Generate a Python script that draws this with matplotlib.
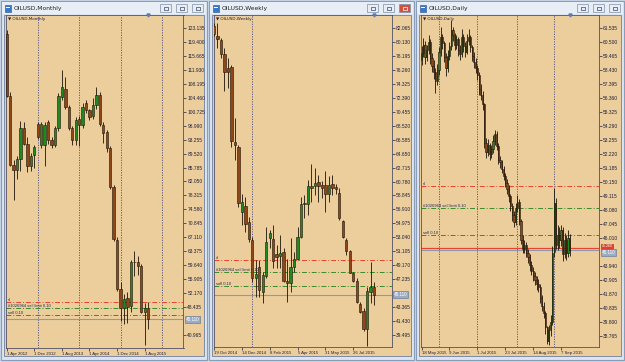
import matplotlib
matplotlib.use("Agg")
import matplotlib.pyplot as plt
from matplotlib.patches import Rectangle
from matplotlib.transforms import blended_transform_factory

W, H = 625, 362
TAN = "#ecce9c"
FRAME = "#50506a"
TXT = "#1e1e3c"
BULL = "#1f8a22"
BEAR = "#8e4718"
EDGE = "#1c1208"
SMALL = "Liberation Sans"

# order lines (same orders show on all three charts)
sl_level = 49.85
limit_level = 48.25
sell_level = 46.25
bid_level = 45.11
ask_level = 45.26
bid_text = "45.110"
ask_text = "45.260"
level_names = ["sl", "#1026964 sell limit 0.10", "sell 0.10"]

# monthly, Apr 2012 .. Sep 2015
mo_open = [121.5, 105.0, 86.6, 85.0, 88.2, 96.4, 92.1, 86.1, 89.2, 97.5,
           91.8, 91.9, 97.9, 93.2, 91.9, 96.4, 104.6, 106.8, 102.0, 96.4,
           93.2, 98.8, 97.2, 103.0, 101.1, 99.5, 102.6, 105.2, 97.2, 95.3,
           91.0, 80.5, 66.3, 53.2, 48.1, 50.7, 48.6, 60.5, 60.5, 59.3,
           47.0, 48.1]
mo_high = [122.6, 106.1, 87.9, 88.8, 98.3, 98.1, 94.1, 89.7, 91.9, 98.1,
           98.1, 97.9, 98.6, 94.0, 97.0, 105.8, 111.9, 110.1, 102.5, 97.0,
           99.3, 99.5, 103.0, 103.8, 101.6, 104.4, 107.3, 106.0, 98.0, 95.8,
           91.5, 81.0, 67.1, 55.0, 52.0, 52.5, 60.9, 63.5, 62.0, 60.0,
           49.5, 49.7]
mo_low = [104.6, 86.1, 77.2, 82.6, 84.8, 91.9, 84.6, 84.8, 85.7, 93.5,
          91.0, 86.1, 92.0, 91.0, 91.2, 95.5, 104.0, 101.6, 95.8, 91.9,
          91.9, 91.5, 96.4, 100.5, 98.6, 98.8, 101.6, 97.0, 92.4, 90.0,
          80.0, 66.0, 52.6, 44.5, 43.9, 44.0, 47.0, 56.8, 57.0, 46.8,
          38.3, 42.5]
mo_close = [105.0, 86.6, 85.0, 88.2, 96.4, 92.1, 86.1, 89.0, 91.3, 94.0,
            97.5, 97.2, 93.2, 91.9, 96.4, 105.0, 107.3, 102.1, 96.4, 93.2,
            98.6, 97.1, 102.1, 101.2, 99.3, 102.6, 105.2, 97.4, 95.0, 91.0,
            80.5, 66.6, 53.2, 48.1, 50.6, 48.5, 60.5, 60.4, 59.3, 47.0,
            48.1, 45.11]
mo_dates = ["1 Apr 2012", "1 Dec 2012", "1 Aug 2013", "1 Apr 2014", "1 Dec 2014", "1 Aug 2015"]
mo_date_idx = [0, 8, 16, 24, 32, 40]
mo_seps = [9, 21, 33, 45]
mo_ticks = [40.965, 48.435, 52.170, 55.905, 59.640, 63.375, 67.110, 70.845,
            74.580, 78.315, 82.050, 85.785, 89.520, 93.255, 96.990, 100.725,
            104.460, 108.195, 111.930, 115.665, 119.400, 123.135]

# weekly, 19 Oct 2014 .. Sep 2015
wk_open = [82.4, 81.0, 80.4, 78.4, 76.5, 76.7, 66.2, 65.5, 56.6, 57.4,
           55.1, 52.7, 47.4, 48.9, 45.5, 47.7, 53.0, 52.8, 50.7, 50.5,
           51.0, 47.0, 46.7, 48.9, 50.1, 53.15, 57.7, 57.6, 59.9, 60.1,
           60.7, 60.3, 60.3, 59.1, 60.4, 60.0, 59.25, 55.3, 52.6, 51.1,
           48.15, 47.0, 43.85, 42.8, 40.3, 45.4, 46.1]
wk_high = [82.7, 82.7, 80.7, 79.3, 77.9, 77.0, 69.6, 65.8, 59.1, 58.7,
           55.9, 53.1, 49.9, 49.9, 48.3, 54.5, 54.1, 54.7, 52.0, 53.4,
           51.5, 50.1, 52.9, 51.0, 54.5, 58.7, 58.9, 61.0, 63.2, 62.6,
           61.7, 60.8, 62.2, 61.5, 61.7, 60.5, 59.85, 55.5, 52.9, 51.3,
           48.3, 47.4, 44.1, 43.2, 46.2, 49.6, 46.9]
wk_low = [80.9, 79.3, 77.9, 73.3, 73.7, 65.5, 63.8, 57.2, 54.8, 53.8,
          52.4, 46.9, 44.8, 44.8, 43.9, 47.4, 51.5, 48.75, 48.75, 48.75,
          46.9, 44.1, 45.5, 48.3, 49.9, 52.9, 55.7, 56.2, 58.0, 58.9,
          58.0, 58.5, 56.6, 58.0, 58.9, 59.0, 55.5, 52.9, 50.6, 48.1,
          46.9, 43.9, 42.5, 40.0, 38.0, 43.9, 43.7]
wk_close = [81.2, 80.6, 78.4, 75.9, 76.0, 66.4, 65.8, 57.8, 57.9, 54.9,
            52.8, 47.4, 48.0, 45.75, 47.8, 52.45, 53.6, 49.8, 50.3, 50.9,
            47.0, 46.7, 48.9, 50.1, 53.15, 57.6, 57.8, 60.1, 60.2, 60.6,
            60.1, 59.85, 59.1, 60.3, 59.85, 59.8, 55.7, 53.15, 51.1, 48.15,
            47.0, 44.1, 42.65, 40.3, 45.6, 46.2, 45.11]
wk_dates = ["19 Oct 2014", "14 Dec 2014", "8 Feb 2015", "5 Apr 2015", "31 May 2015", "26 Jul 2015"]
wk_date_idx = [0, 8, 16, 24, 32, 40]
wk_seps = [11]
wk_ticks = [39.495, 41.430, 43.365, 47.235, 49.170, 51.105, 53.040, 54.975,
            56.910, 58.845, 60.780, 62.715, 64.650, 66.585, 68.520, 70.455,
            72.390, 74.325, 76.260, 78.195, 80.130, 82.065]

# daily, 18 May 2015 .. 14 Sep 2015
dy_open = [59.2, 59.7, 60.3, 59.4, 59.9, 60.5, 59.3, 58.7, 58.3, 57.6,
           58.4, 59.8, 60.9, 60.4, 59.4, 58.6, 59.5, 60.2, 61.4, 61.0,
           60.3, 60.7, 59.9, 59.6, 60.9, 60.2, 59.8, 60.6, 60.9, 60.1,
           59.5, 59.0, 58.6, 58.1, 57.0, 56.6, 55.9, 53.0, 52.4, 52.9,
           52.2, 52.6, 53.2, 53.7, 52.8, 51.8, 51.6, 51.1, 50.6, 50.1,
           49.6, 49.1, 48.4, 47.7, 47.2, 48.2, 48.7, 47.3, 45.9, 45.2,
           45.5, 44.9, 44.6, 44.0, 43.6, 43.2, 42.9, 42.6, 42.4, 41.6,
           41.0, 40.5, 39.4, 38.4, 39.2, 39.8, 45.0, 48.6, 45.5, 46.2,
           45.9, 46.6, 44.8, 45.9, 44.9, 46.0]
dy_high = [60.2, 60.8, 60.6, 60.3, 61.0, 60.7, 59.7, 59.2, 58.6, 58.9,
           60.1, 61.6, 61.1, 60.6, 59.7, 59.9, 60.5, 62.1, 61.6, 61.2,
           61.0, 60.9, 60.3, 61.5, 61.1, 60.5, 61.1, 61.5, 61.0, 60.3,
           59.8, 59.3, 58.8, 58.3, 57.4, 56.9, 56.0, 53.4, 53.3, 53.0,
           52.9, 53.6, 54.0, 53.9, 53.0, 52.1, 51.8, 51.3, 50.8, 50.4,
           49.9, 49.3, 48.6, 48.0, 48.6, 49.2, 48.9, 47.4, 46.2, 45.9,
           45.7, 45.2, 44.8, 44.3, 43.9, 43.5, 43.2, 43.0, 42.6, 41.8,
           41.3, 40.6, 39.5, 39.6, 40.3, 45.4, 49.7, 49.0, 47.0, 46.8,
           47.0, 46.8, 46.4, 46.2, 46.6, 46.3]
dy_low = [58.8, 59.4, 58.9, 59.1, 59.6, 58.9, 58.3, 57.8, 56.7, 57.3,
          58.1, 59.5, 60.0, 59.0, 58.0, 58.3, 59.2, 59.9, 60.6, 59.9,
          60.0, 59.5, 59.2, 59.4, 59.8, 59.4, 59.6, 60.3, 59.8, 59.1,
          58.6, 58.2, 57.7, 56.6, 56.2, 55.5, 52.7, 51.9, 52.1, 51.8,
          51.9, 52.3, 52.9, 52.5, 51.5, 51.2, 50.8, 50.3, 49.8, 49.3,
          48.7, 48.0, 47.3, 46.8, 47.0, 47.9, 47.0, 45.6, 44.9, 44.9,
          44.6, 44.2, 43.6, 43.3, 42.8, 42.5, 42.2, 42.0, 41.2, 40.6,
          40.1, 38.9, 38.2, 38.1, 38.8, 39.6, 44.6, 45.2, 45.1, 45.3,
          45.4, 44.3, 44.5, 44.4, 44.6, 44.7]
dy_close = [59.7, 60.3, 59.4, 59.9, 60.5, 59.3, 58.7, 58.3, 57.6, 58.4,
            59.8, 60.9, 60.4, 59.4, 58.6, 59.5, 60.2, 61.4, 61.0, 60.3,
            60.7, 59.9, 59.6, 60.9, 60.2, 59.8, 60.6, 60.9, 60.1, 59.5,
            59.0, 58.6, 58.1, 57.0, 56.6, 55.9, 53.0, 52.4, 52.9, 52.2,
            52.6, 53.2, 53.7, 52.8, 51.8, 51.6, 51.1, 50.6, 50.1, 49.6,
            49.1, 48.4, 47.7, 47.2, 48.2, 48.7, 47.3, 45.9, 45.2, 45.5,
            44.9, 44.6, 44.0, 43.6, 43.2, 42.9, 42.6, 42.4, 41.6, 41.0,
            40.5, 39.4, 38.4, 39.2, 39.8, 44.9, 48.6, 45.5, 46.2, 45.9,
            46.6, 44.8, 45.9, 44.9, 46.0, 45.11]
dy_dates = ["18 May 2015", "9 Jun 2015", "1 Jul 2015", "23 Jul 2015", "14 Aug 2015", "7 Sep 2015"]
dy_date_idx = [0, 16, 32, 48, 64, 80]
dy_seps = [10, 32, 55, 76]
dy_ticks = [38.765, 39.800, 40.835, 41.870, 42.905, 43.940, 46.010, 47.045,
            48.080, 49.115, 50.150, 51.185, 52.220, 53.255, 54.290, 55.325,
            56.360, 57.395, 58.430, 59.465, 60.500, 61.535]


def px_rect(x0, y0, x1, y1):
    return [x0 / W, 1 - y1 / H, (x1 - x0) / W, (y1 - y0) / H]


def draw_window(bg, x0, x1, title, active=False):
    bg.add_patch(Rectangle((x0, 1), x1 - x0, 359, fc="#dbe4ef", ec="#8a9db8", lw=0.8))
    bg.add_patch(Rectangle((x0 + 1, 2), x1 - x0 - 2, 12, fc="#e8eef6", ec="none"))
    bg.add_patch(Rectangle((x0 + 3, 15), x1 - x0 - 6, 341, fc=TAN, ec="#6f7fa0", lw=0.6))
    # little window icon
    bg.add_patch(Rectangle((x0 + 4, 4.5), 6, 7, fc="#3d78c4", ec="#2a4f8a", lw=0.4))
    bg.add_patch(Rectangle((x0 + 5.3, 6.5), 3.4, 1.2, fc="white", ec="none"))
    bg.text(x0 + 13, 8.8, title, fontsize=4.3, color="#202020", va="center", ha="left")
    for k, off in enumerate([47, 31, 15]):
        red = active and k == 2
        bg.add_patch(Rectangle((x1 - off, 4), 11, 8, fc="#d4503c" if red else "#e9eef5",
                               ec="#7d8fab", lw=0.5))
        bg.add_patch(Rectangle((x1 - off + 3.5, 6.5), 4, 3, fc="none",
                               ec="white" if red else "#3c4660", lw=0.5))


def draw_chart(fig, rect, o, h, l, c, width, xlim, ylim, ticks, dates, date_idx,
               seps, name, show_ask=False):
    ax = fig.add_axes(px_rect(*rect))
    ax.set_facecolor(TAN)
    x = list(range(len(o)))
    ax.vlines(x, l, h, color=EDGE, lw=0.6, zorder=3)
    bottoms = [min(a, b) for a, b in zip(o, c)]
    heights = [max(abs(b - a), 0.03) for a, b in zip(o, c)]
    colors = [BULL if b >= a else BEAR for a, b in zip(o, c)]
    ax.bar(x, heights, width, bottom=bottoms, color=colors, edgecolor=EDGE, lw=0.4, zorder=4)

    for s in seps:
        ax.axvline(s, color="#4e4e86", lw=0.6, ls=(0, (1.5, 1.5)), zorder=1)
    dashdot = (0, (5, 2, 1, 2))
    ax.axhline(sl_level, color="#e8432c", lw=0.7, ls=dashdot, zorder=2)
    ax.axhline(limit_level, color="#3a8a2a", lw=0.7, ls=dashdot, zorder=2)
    ax.axhline(sell_level, color="#3a8a2a", lw=0.7, ls=dashdot, zorder=2)
    ax.axhline(bid_level, color="#8d99ad", lw=0.8, zorder=2)
    if show_ask:
        ax.axhline(ask_level, color="#e8432c", lw=0.9, zorder=2)

    tr = blended_transform_factory(ax.transAxes, ax.transData)
    for lvl, txt in zip([sl_level, limit_level, sell_level], level_names):
        ax.text(0.012, lvl, txt, transform=tr, fontsize=3.0, color="#1e2a5a",
                va="bottom", ha="left", family=SMALL)
    if show_ask:
        # ask tag sits just above the bid tag
        ax.text(1.012, ask_level, ask_text, transform=tr, fontsize=2.6, color="white",
                va="bottom", ha="left", clip_on=False, family=SMALL,
                bbox=dict(boxstyle="square,pad=0.12", fc="#e0402c", ec="#a02818", lw=0.4))
        bid_va = "top"
    else:
        bid_va = "center"
    ax.text(1.012, bid_level, bid_text, transform=tr, fontsize=3.3, color="white",
            va=bid_va, ha="left", clip_on=False, family=SMALL,
            bbox=dict(boxstyle="square,pad=0.2", fc="#9aabc4", ec="#5d7092", lw=0.4))

    ax.text(0.012, 0.993, "\u25bc " + name, transform=ax.transAxes, fontsize=3.0,
            color=TXT, va="top", ha="left")
    trx = blended_transform_factory(ax.transData, ax.transAxes)
    ax.plot([len(o) - 1], [1.0], transform=trx, marker="v", ms=2.2, color="#5d7bb8",
            clip_on=False, zorder=6)

    ax.set_xlim(*xlim)
    ax.set_ylim(*ylim)
    ax.yaxis.tick_right()
    ax.set_yticks(ticks)
    ax.set_yticklabels([f"{v:.3f}" for v in ticks], family=SMALL)
    ax.set_xticks(date_idx)
    ax.set_xticklabels(dates, family=SMALL)
    for lab in ax.get_xticklabels():
        lab.set_ha("left")
    ax.tick_params(axis="both", length=2, width=0.5, labelsize=3.5, colors=TXT,
                   direction="out", pad=0.8)
    ax.tick_params(axis="x", labelsize=3.1)
    for sp in ax.spines.values():
        sp.set_color(FRAME)
        sp.set_linewidth(0.6)
    return ax


fig = plt.figure(figsize=(W / 100, H / 100), dpi=100, facecolor="#c9d6e6")
bg = fig.add_axes([0, 0, 1, 1])
bg.set_xlim(0, W)
bg.set_ylim(H, 0)
bg.axis("off")

draw_window(bg, 1, 207, "OILUSD,Monthly")
draw_window(bg, 209, 414, "OILUSD,Weekly", active=True)
draw_window(bg, 416, 624, "OILUSD,Daily")

draw_chart(fig, (6, 15, 183.5, 348), mo_open, mo_high, mo_low, mo_close, 0.68,
           (-0.2, 51.25), (37.39, 126.70), mo_ticks, mo_dates, mo_date_idx,
           mo_seps, "OILUSD,Monthly")
draw_chart(fig, (214, 15, 391.7, 347.3), wk_open, wk_high, wk_low, wk_close, 0.68,
           (0.0, 51.06), (37.79, 83.87), wk_ticks, wk_dates, wk_date_idx,
           wk_seps, "OILUSD,Weekly")
draw_chart(fig, (421, 15, 599.3, 347.3), dy_open, dy_high, dy_low, dy_close, 0.68,
           (-0.3, 101.9), (37.93, 62.50), dy_ticks, dy_dates, dy_date_idx,
           dy_seps, "OILUSD,Daily", show_ask=True)

fig.savefig("out.png", dpi=100, facecolor=fig.get_facecolor())
